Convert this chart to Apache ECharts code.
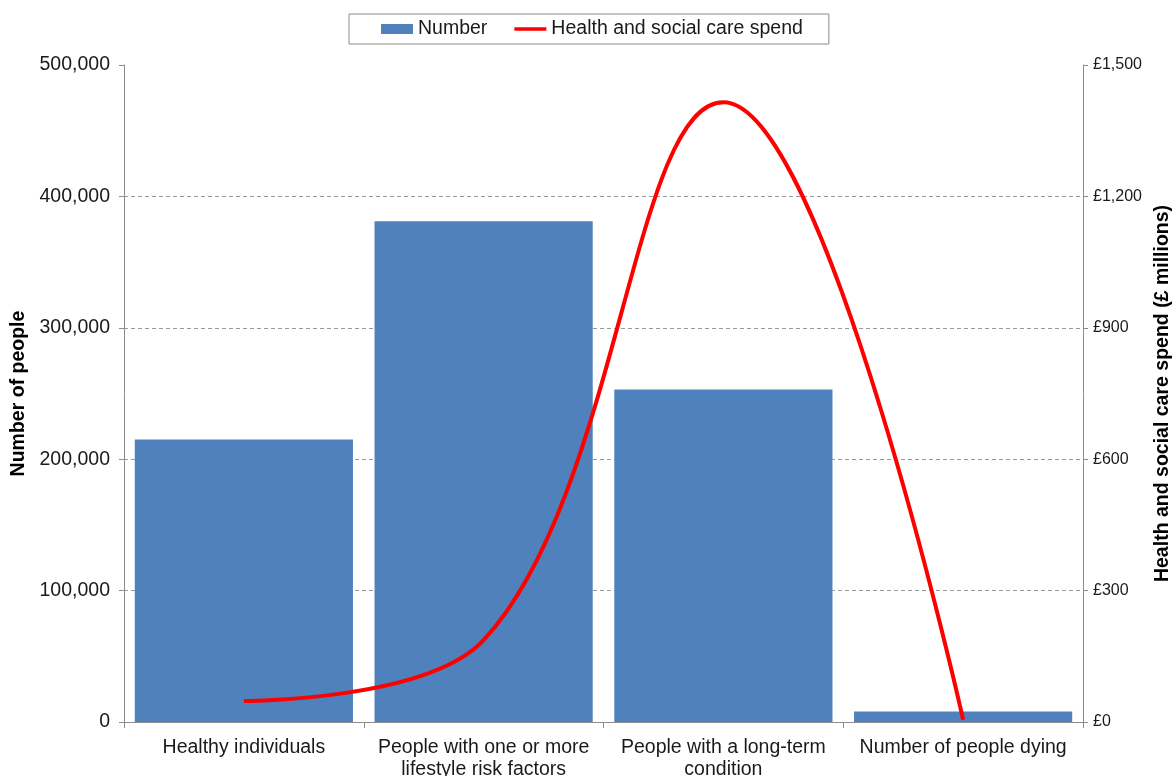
<!DOCTYPE html>
<html>
<head>
<meta charset="utf-8">
<script src="https://cdn.jsdelivr.net/npm/echarts@6/dist/echarts.min.js"></script>
<style>
  html, body { margin: 0; padding: 0; background: #fff; }
  #chart { width: 1173px; height: 776px; }
</style>
</head>
<body>
<div id="chart"></div>
<script>
// Population groups along the care pathway
const categories = [
  'Healthy individuals',
  'People with one or more\nlifestyle risk factors',
  'People with a long-term\ncondition',
  'Number of people dying'
];
// Number of people in each group
const peopleCounts = [215000, 381000, 253000, 8000];
// Health and social care spend (£ millions)
const spendMillions = [48, 187, 1415, 5];

const leftTicks = { min: 0, max: 500000, interval: 100000 };
const rightTicks = { min: 0, max: 1500, interval: 300 };

const font = '"Liberation Sans", Arial, sans-serif';
const axisGrey = '#8c8c8c';
const textColor = '#1a1a1a';

// Thick horizontal bar inside a 36x10 box, used as the line's legend key
const lineKey = 'path://M0,0 M36,10 M0,3 L36,3 L36,7 L0,7 Z';

const chart = echarts.init(document.getElementById('chart'), null, { renderer: 'canvas' });

chart.setOption({
  backgroundColor: '#ffffff',
  animation: false,
  textStyle: { fontFamily: font },
  legend: {
    top: 14,
    left: 349,
    padding: [5, 26, 5, 32],
    borderColor: '#8c8c8c',
    borderWidth: 1,
    itemGap: 27,
    itemWidth: 32,
    itemHeight: 10,
    textStyle: { fontFamily: font, fontSize: 19.5, color: textColor },
    data: [
      { name: 'Number', icon: 'rect' },
      { name: 'Health and social care spend', icon: lineKey, itemStyle: { color: '#FF0000' } }
    ]
  },
  grid: {
    left: 124, right: 90, top: 65, bottom: 54,
    containLabel: false,
    outerBoundsMode: 'none'
  },
  xAxis: {
    type: 'category',
    data: categories,
    axisLine: { lineStyle: { color: axisGrey, width: 1 } },
    axisTick: { show: true, length: 6, alignWithLabel: false, lineStyle: { color: axisGrey } },
    axisLabel: {
      color: textColor,
      fontSize: 19.5,
      fontFamily: font,
      lineHeight: 22,
      margin: 15,
      interval: 0
    }
  },
  yAxis: [
    {
      type: 'value',
      min: leftTicks.min,
      max: leftTicks.max,
      interval: leftTicks.interval,
      name: 'Number of people',
      nameLocation: 'middle',
      nameRotate: 90,
      nameGap: 94,
      nameTextStyle: { fontFamily: font, fontSize: 19.5, fontWeight: 'bold', color: '#000' },
      axisLine: { show: true, lineStyle: { color: axisGrey, width: 1 } },
      axisTick: { show: true, length: 5, lineStyle: { color: axisGrey } },
      axisLabel: {
        color: textColor,
        fontSize: 19.5,
        fontFamily: font,
        margin: 14,
        formatter: v => v.toLocaleString('en-GB')
      },
      splitLine: {
        show: true,
        showMaxLine: false,
        showMinLine: false,
        lineStyle: { color: '#9a9a9a', type: [4, 3], width: 1 }
      }
    },
    {
      type: 'value',
      position: 'right',
      min: rightTicks.min,
      max: rightTicks.max,
      interval: rightTicks.interval,
      name: 'Health and social care spend (£ millions)',
      nameLocation: 'middle',
      nameRotate: 90,
      nameGap: 69,
      nameTextStyle: { fontFamily: font, fontSize: 19.5, fontWeight: 'bold', color: '#000' },
      axisLine: { show: true, lineStyle: { color: axisGrey, width: 1 } },
      axisTick: { show: true, length: 5, lineStyle: { color: axisGrey } },
      axisLabel: {
        color: textColor,
        fontSize: 16,
        fontFamily: font,
        margin: 10,
        formatter: v => '£' + v.toLocaleString('en-GB')
      },
      splitLine: { show: false }
    }
  ],
  series: [
    {
      name: 'Number',
      type: 'bar',
      yAxisIndex: 0,
      data: peopleCounts,
      barCategoryGap: '9%',
      itemStyle: { color: '#4F81BD' }
    },
    {
      name: 'Health and social care spend',
      type: 'line',
      yAxisIndex: 1,
      data: spendMillions,
      smooth: 0.4,
      symbol: 'none',
      lineStyle: { color: '#FF0000', width: 4 },
      itemStyle: { color: '#FF0000' },
      z: 5
    }
  ]
});
</script>
</body>
</html>
